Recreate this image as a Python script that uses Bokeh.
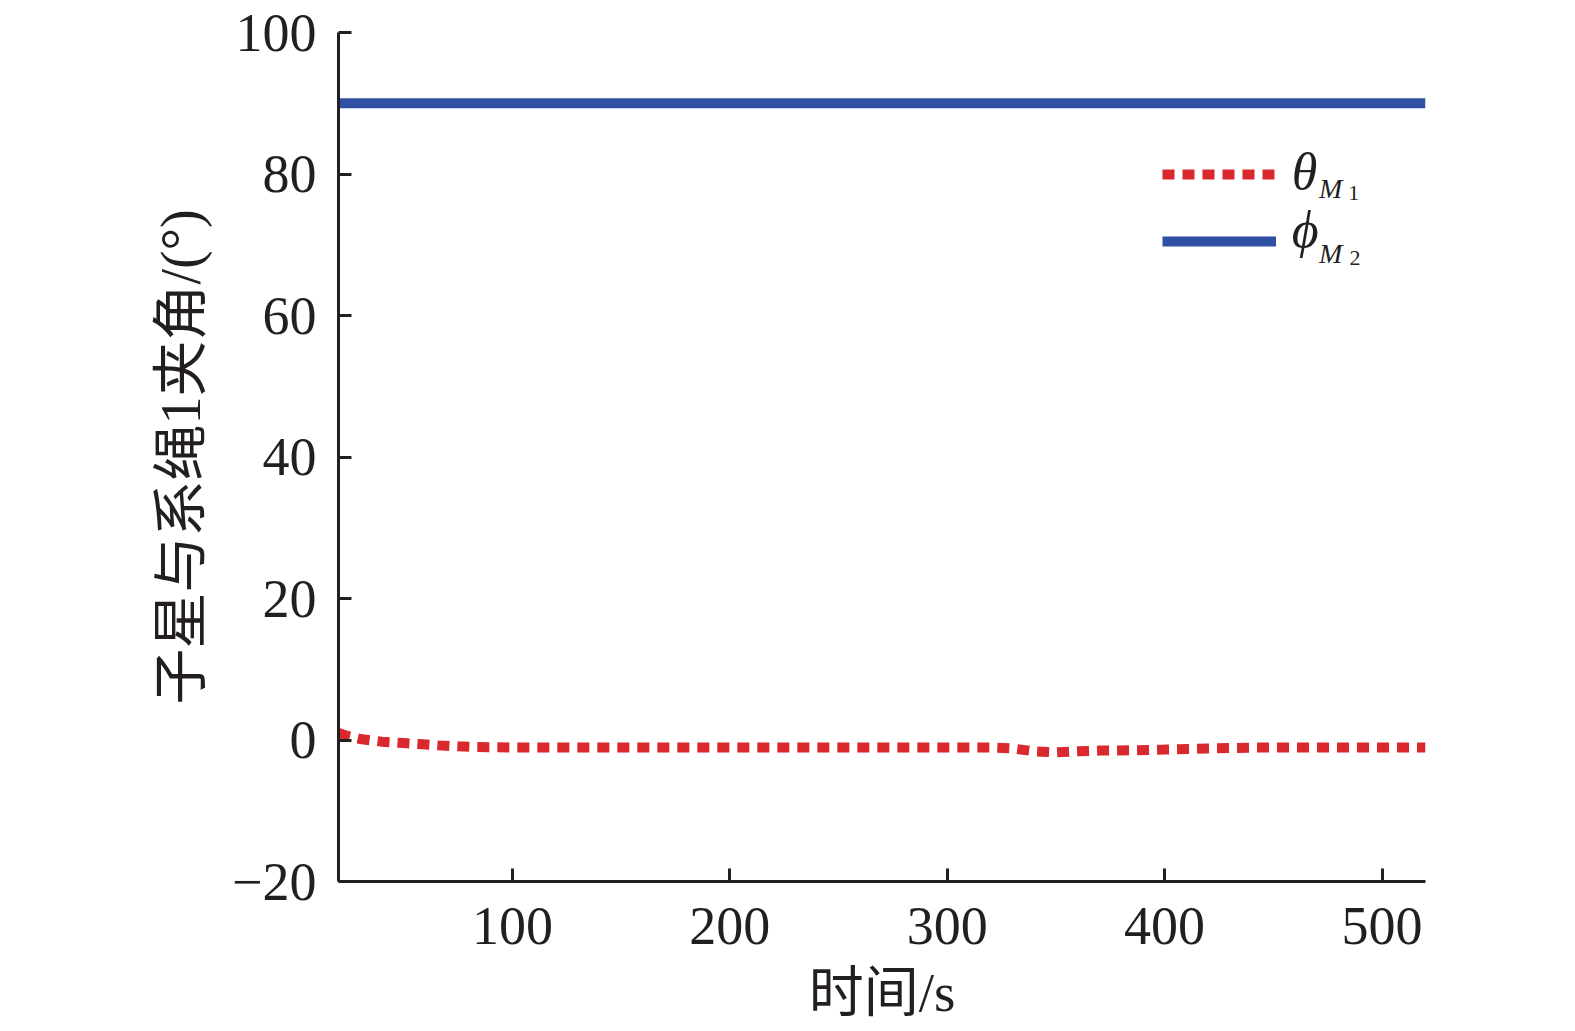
from bokeh.plotting import figure
from bokeh.models import FixedTicker, Legend, LegendItem, Label
from bokeh.embed import file_html
from bokeh.resources import INLINE

# ---- data ----
time_theta = [20, 25, 30, 40, 50, 57, 66, 75, 83, 100, 150, 200, 250, 300, 320,
              330, 340, 350, 360, 370, 385, 400, 420, 440, 460, 480, 500, 520]
theta_M1 = [1.0, 0.5, 0.14, -0.24, -0.43, -0.57, -0.76, -0.9, -1.0, -1.05, -1.05,
            -1.05, -1.05, -1.05, -1.05, -1.2, -1.6, -1.75, -1.6, -1.5, -1.45,
            -1.35, -1.2, -1.08, -1.05, -1.05, -1.05, -1.05]
time_phi = [20, 100, 200, 300, 400, 500, 520]
phi_M2 = [90, 90, 90, 90, 90, 90, 90]

x_ticks = [100, 200, 300, 400, 500]
y_ticks = [-20, 0, 20, 40, 60, 80, 100]
y_tick_labels = ["\u221220", "0", "20", "40", "60", "80", "100"]
x_label = "时间/s"
y_label = "子星与系绳1夹角/(°)"

RED = "#d9282e"
BLUE = "#2f51a3"
AXIS = "#231f20"
SERIF = "Liberation Serif, Noto Sans CJK SC"

p = figure(frame_width=1087, frame_height=849,
           x_range=(20, 520), y_range=(-20, 100),
           output_backend="svg", toolbar_location=None,
           min_border_left=338, min_border_top=32,
           min_border_right=50, min_border_bottom=134)

p.outline_line_color = None
p.xgrid.visible = False
p.ygrid.visible = False
p.background_fill_color = "white"
p.border_fill_color = "white"

blue_r = p.line(time_phi, phi_M2, line_color=BLUE, line_width=10)
red_r = p.line(time_theta, theta_M1, line_color=RED, line_width=10,
               line_dash="12 8")

for ax in (p.xaxis[0], p.yaxis[0]):
    ax.axis_line_color = AXIS
    ax.axis_line_width = 3
    ax.major_tick_line_color = AXIS
    ax.major_tick_line_width = 3
    ax.major_tick_in = 13
    ax.major_tick_out = 0
    ax.minor_tick_line_color = None
    ax.major_label_text_font = "Liberation Serif"
    ax.major_label_text_font_size = "54px"
    ax.major_label_text_color = AXIS
    ax.axis_label_text_font = SERIF
    ax.axis_label_text_color = AXIS
    ax.axis_label_text_font_style = "normal"

p.xaxis[0].axis_label_text_font_size = "55px"
p.yaxis[0].axis_label_text_font_size = "56px"
p.xaxis[0].ticker = FixedTicker(ticks=x_ticks)
p.yaxis[0].ticker = FixedTicker(ticks=y_ticks)
p.yaxis[0].major_label_overrides = {t: s for t, s in zip(y_ticks, y_tick_labels)}
p.xaxis[0].axis_label = x_label
p.yaxis[0].axis_label = y_label
p.xaxis[0].major_label_standoff = 26
p.yaxis[0].major_label_standoff = 22
p.xaxis[0].axis_label_standoff = 15
p.yaxis[0].axis_label_standoff = 17

legend = Legend(items=[LegendItem(label=" ", renderers=[red_r]),
                       LegendItem(label=" ", renderers=[blue_r])],
                location=(824, 620), glyph_width=114, glyph_height=40,
                label_height=40, label_width=0, label_standoff=0,
                label_text_font_size="10px", spacing=27, padding=0, margin=0,
                border_line_color=None, background_fill_alpha=0)
p.add_layout(legend)

def lab(x, y, t, size, style):
    p.add_layout(Label(x=x, y=y, text=t, text_font="Liberation Serif",
                       text_font_size=size, text_font_style=style,
                       text_color=AXIS, text_align="left",
                       text_baseline="alphabetic"))

lab(458.5, 80.3, "θ", "52px", "italic")
lab(471.0, 77.9, "M", "28px", "italic")
lab(484.5, 77.3, "1", "22px", "normal")
lab(458.5, 72.1, "ϕ", "52px", "italic")
lab(471.0, 68.8, "M", "28px", "italic")
lab(485.0, 68.1, "2", "22px", "normal")

open("out.html", "w").write(file_html(p, INLINE))
